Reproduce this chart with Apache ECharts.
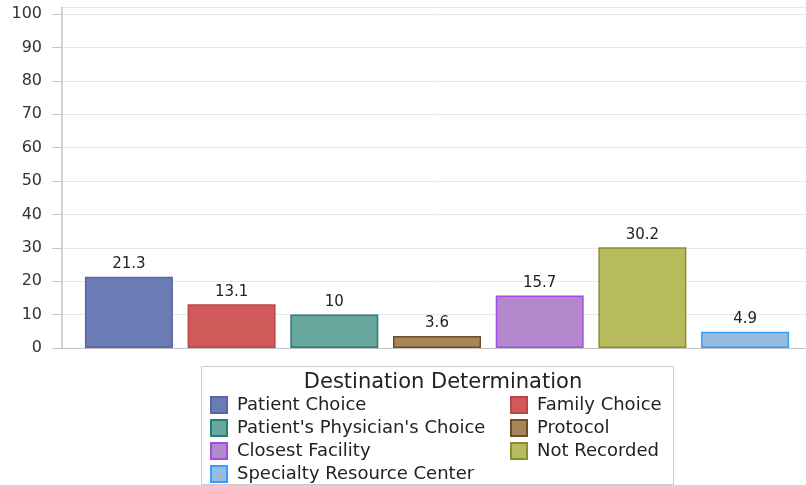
<!DOCTYPE html>
<html>
<head>
<meta charset="utf-8">
<script src="https://cdn.jsdelivr.net/npm/echarts@6/dist/echarts.min.js"></script>
<style>html,body{margin:0;padding:0;background:#fff;}#c{width:806px;height:485px;}</style>
</head>
<body>
<div id="c"></div>
<script>
var categories = ["Patient Choice", "Family Choice", "Patient's Physician's Choice", "Protocol", "Closest Facility", "Not Recorded", "Specialty Resource Center"];
var values = [21.3, 13.1, 10, 3.6, 15.7, 30.2, 4.9];
var fills = ["#6b7bb3", "#d05a5a", "#66a89e", "#a8845a", "#b488cc", "#b8bb5c", "#96bce0"];
var borders = ["#5566a6", "#b84646", "#2b7d70", "#6e4e26", "#a24ee6", "#879030", "#3a9cff"];
var legendLeft = ["Patient Choice", "Patient's Physician's Choice", "Closest Facility", "Specialty Resource Center"];
var legendRight = ["Family Choice", "Protocol", "Not Recorded"];
var legendTitle = "Destination Determination";

var font = "'DejaVu Sans', Verdana, sans-serif";
var series = categories.map(function (name, i) {
  return {
    name: name,
    type: 'bar',
    data: [values[i]],
    barWidth: 88,
    barGap: '16.7%',
    itemStyle: { color: fills[i], borderColor: borders[i], borderWidth: 1.5 },
    label: { show: true, position: 'top', distance: 5, color: '#222', fontSize: 15, fontFamily: font },
    emphasis: { disabled: true }
  };
});

var legendText = { fontSize: 18, color: '#222', fontFamily: font, padding: [0, 0, 0, 5] };

var chart = echarts.init(document.getElementById('c'));
chart.setOption({
  animation: false,
  title: {
    text: legendTitle,
    left: 438, top: 367, textAlign: 'center',
    textStyle: { fontSize: 21, fontWeight: 'normal', color: '#222', fontFamily: font }
  },
  graphic: [{
    type: 'rect', shape: { x: 201.5, y: 366.5, width: 472, height: 118 },
    style: { fill: 'none', stroke: '#cccccc', lineWidth: 1 }, silent: true, z: -1
  }],
  legend: [{
    data: legendLeft, orient: 'vertical', left: 205, top: 391, height: 120,
    itemWidth: 16, itemHeight: 16, itemGap: 5, icon: 'rect',
    textStyle: legendText, selectedMode: false
  }, {
    data: legendRight, orient: 'vertical', left: 505, top: 391, height: 120,
    itemWidth: 16, itemHeight: 16, itemGap: 5, icon: 'rect',
    textStyle: legendText, selectedMode: false
  }],
  grid: { left: 62, width: 750, top: 7.3, bottom: 137, containLabel: false, outerBoundsMode: 'none' },
  xAxis: {
    type: 'category', data: [''],
    axisLine: { show: true, lineStyle: { color: '#c4c4c4', width: 1 } },
    axisTick: { show: false }, axisLabel: { show: false }
  },
  yAxis: {
    type: 'value', min: 0, max: 102, interval: 10,
    axisLine: { show: true, lineStyle: { color: '#c4c4c4', width: 1.5 } },
    axisTick: { show: true, length: 10, lineStyle: { color: '#c4c4c4' } },
    axisLabel: { showMaxLabel: false, fontSize: 16, color: '#333', margin: 20, fontFamily: font },
    splitLine: { show: true, lineStyle: { color: '#e8e8e8' } }
  },
  series: series
});
</script>
</body>
</html>
